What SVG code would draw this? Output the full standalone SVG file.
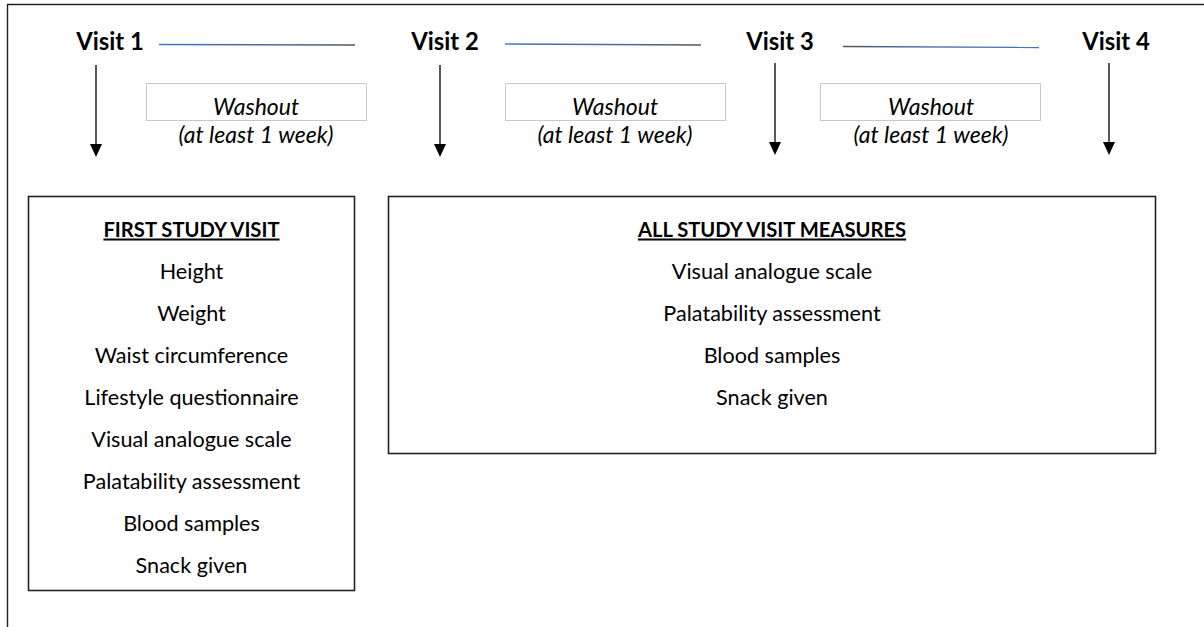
<svg xmlns="http://www.w3.org/2000/svg" width="1204" height="627" viewBox="0 0 1204 627">
<style>
.visit{font-family:Lato,"Liberation Sans",sans-serif;font-weight:bold;font-size:23.8px;fill:#000;text-anchor:middle}
.wash{font-family:Lato,"Liberation Sans",sans-serif;font-style:italic;font-size:23px;fill:#000;text-anchor:middle}
.item{font-family:Lato,"Liberation Sans",sans-serif;font-size:21.6px;fill:#000;text-anchor:middle}
.head{font-family:Lato,"Liberation Sans",sans-serif;font-size:20.2px;font-weight:bold;fill:#000;text-anchor:middle;text-decoration:underline}
.wbox{fill:#fff;stroke:#c8c8c8;stroke-width:1}
.box{fill:#fff;stroke:#222;stroke-width:1.6}
.shaft{stroke:#000;stroke-width:1.3}
.head-tri{fill:#000}
.tl{stroke-width:1.3;fill:none}
</style>
<defs>
<linearGradient id="g1" gradientUnits="userSpaceOnUse" x1="159" y1="0" x2="355" y2="0">
<stop offset="0" stop-color="#4472c4"/><stop offset="0.6" stop-color="#4a6aa8"/><stop offset="1" stop-color="#555"/>
</linearGradient>
<linearGradient id="g2" gradientUnits="userSpaceOnUse" x1="505" y1="0" x2="701" y2="0">
<stop offset="0" stop-color="#4472c4"/><stop offset="0.6" stop-color="#4a6aa8"/><stop offset="1" stop-color="#555"/>
</linearGradient>
<linearGradient id="g3" gradientUnits="userSpaceOnUse" x1="843" y1="0" x2="1039" y2="0">
<stop offset="0" stop-color="#555"/><stop offset="0.4" stop-color="#4a6aa8"/><stop offset="1" stop-color="#4472c4"/>
</linearGradient>
</defs>
<rect width="1204" height="627" fill="#fff"/>
<g id="frame" stroke="#222" stroke-width="1.4" fill="none">
<path d="M7.5,627 V4.5 H1204"/>
</g>
<g id="connectors">
<path class="tl" d="M159,44.5 L355,45" stroke="url(#g1)"/>
<path class="tl" d="M505,44 L701,45" stroke="url(#g2)"/>
<path class="tl" d="M843,46.5 L1039,47.5" stroke="url(#g3)"/>
<line class="shaft" x1="96" y1="65" x2="96" y2="145"/>
<path class="head-tri" d="M90,144 L102,144 L96,157 Z"/>
<line class="shaft" x1="440" y1="65" x2="440" y2="145"/>
<path class="head-tri" d="M434,144 L446,144 L440,157 Z"/>
<line class="shaft" x1="775" y1="63" x2="775" y2="143"/>
<path class="head-tri" d="M769,142 L781,142 L775,155 Z"/>
<line class="shaft" x1="1109" y1="63" x2="1109" y2="143"/>
<path class="head-tri" d="M1103,142 L1115,142 L1109,155 Z"/>
</g>
<g id="visit1"><text class="visit" x="110" y="49.5">Visit 1</text></g>
<g id="visit2"><text class="visit" x="445" y="49.5">Visit 2</text></g>
<g id="visit3"><text class="visit" x="780" y="49.5">Visit 3</text></g>
<g id="visit4"><text class="visit" x="1116" y="49.5">Visit 4</text></g>
<g id="washout1">
<rect class="wbox" x="146.5" y="83.5" width="220" height="37"/>
<text class="wash" x="256" y="114.5">Washout</text>
<text class="wash" x="256" y="142.5">(at least 1 week)</text>
</g>
<g id="washout2">
<rect class="wbox" x="505.5" y="83.5" width="220" height="37"/>
<text class="wash" x="615" y="114.5">Washout</text>
<text class="wash" x="615" y="142.5">(at least 1 week)</text>
</g>
<g id="washout3">
<rect class="wbox" x="820.5" y="83.5" width="220" height="37"/>
<text class="wash" x="931" y="114.5">Washout</text>
<text class="wash" x="931" y="142.5">(at least 1 week)</text>
</g>
<g id="first-visit">
<rect class="box" x="28.5" y="196.5" width="326" height="394"/>
<text class="head" x="191.5" y="236.5">FIRST STUDY VISIT</text>
<text class="item" x="191.5" y="278.5">Height</text>
<text class="item" x="191.5" y="320.5">Weight</text>
<text class="item" x="191.5" y="362.5">Waist circumference</text>
<text class="item" x="191.5" y="404.5">Lifestyle questionnaire</text>
<text class="item" x="191.5" y="446.5">Visual analogue scale</text>
<text class="item" x="191.5" y="488.5">Palatability assessment</text>
<text class="item" x="191.5" y="530.5">Blood samples</text>
<text class="item" x="191.5" y="572.5">Snack given</text>
</g>
<g id="all-visits">
<rect class="box" x="388.5" y="196.5" width="767" height="257"/>
<text class="head" x="772" y="236.5">ALL STUDY VISIT MEASURES</text>
<text class="item" x="772" y="278.5">Visual analogue scale</text>
<text class="item" x="772" y="320.5">Palatability assessment</text>
<text class="item" x="772" y="362.5">Blood samples</text>
<text class="item" x="772" y="404.5">Snack given</text>
</g>
</svg>
